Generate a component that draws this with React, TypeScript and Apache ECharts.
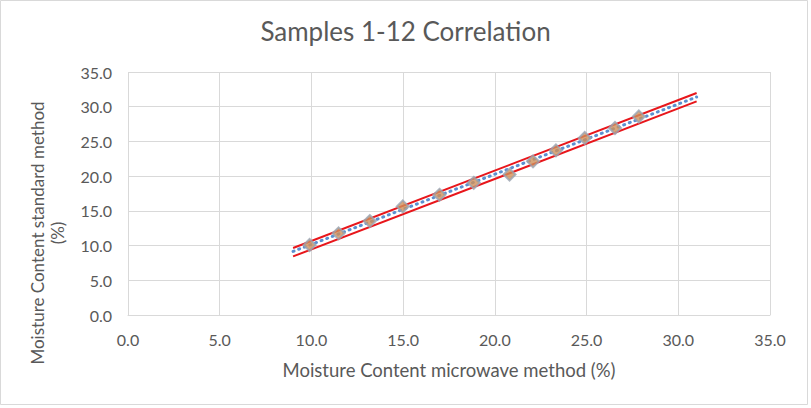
import React, { useEffect, useRef } from "react";
import * as echarts from "echarts";

const sampleX = [9.9, 11.48, 13.18, 14.98, 16.98, 18.85, 20.8, 22.08, 23.33, 24.9, 26.55, 27.85];
const sampleY = [10.08, 11.76, 13.53, 15.64, 17.31, 19.04, 20.23, 22.13, 23.71, 25.49, 26.93, 28.59];
const lineX = [9, 31];
const trendY = [9.16, 31.4];
const upperY = [9.65, 31.97];
const lowerY = [8.44, 30.77];
const xTicks = [0, 5, 10, 15, 20, 25, 30, 35];
const yTicks = [0, 5, 10, 15, 20, 25, 30, 35];

const FONT = "Lato";

export default function App() {
  const ref = useRef<HTMLDivElement>(null);
  useEffect(() => {
    if (!ref.current) return;
    const chart = echarts.init(ref.current, null, { renderer: "svg" });
    const pts = sampleX.map((x, i) => [x, sampleY[i]]);
    const mk = (ys: number[]) => lineX.map((x, i) => [x, ys[i]]);
    chart.setOption({
      animation: false,
      backgroundColor: "#ffffff",
      title: {
        text: "Samples 1-12 Correlation",
        left: "center",
        top: 13,
        textStyle: { fontFamily: FONT, fontSize: 26, fontWeight: "normal", color: "#595959" },
      },
      grid: { left: 128, right: 41, top: 72, bottom: 93 },
      xAxis: {
        type: "value",
        min: 0,
        max: 35,
        interval: 5,
        name: "Moisture Content microwave method (%)",
        nameLocation: "middle",
        nameGap: 45,
        nameTextStyle: { fontFamily: FONT, fontSize: 18.5, color: "#595959" },
        axisLine: { show: true, lineStyle: { color: "#D9D9D9" } },
        axisTick: { show: false },
        splitLine: { show: true, lineStyle: { color: "#D9D9D9" } },
        axisLabel: {
          fontFamily: FONT,
          fontSize: 16,
          color: "#595959",
          margin: 16,
          formatter: (v: number) => (xTicks.includes(v) ? v.toFixed(1) : ""),
        },
      },
      yAxis: {
        type: "value",
        min: 0,
        max: 35,
        interval: 5,
        axisLine: { show: false },
        axisTick: { show: false },
        splitLine: { show: true, lineStyle: { color: "#D9D9D9" } },
        axisLabel: {
          fontFamily: FONT,
          fontSize: 16,
          color: "#595959",
          margin: 16,
          formatter: (v: number) => (yTicks.includes(v) ? v.toFixed(1) : ""),
        },
      },
      series: [
        {
          type: "line",
          data: mk(upperY),
          symbol: "none",
          lineStyle: { color: "#E8161B", width: 2 },
          z: 2,
        },
        {
          type: "line",
          data: mk(lowerY),
          symbol: "none",
          lineStyle: { color: "#E8161B", width: 2 },
          z: 2,
        },
        {
          type: "line",
          data: mk(trendY),
          symbol: "none",
          lineStyle: { color: "#5B8FD0", width: 3, type: [1, 5], cap: "round" },
          z: 3,
        },
        {
          type: "scatter",
          data: pts,
          symbol: "diamond",
          symbolSize: 12,
          itemStyle: { color: "#D0905A", borderColor: "#9AA4B2", borderWidth: 2 },
          z: 4,
        },
      ],
      graphic: [
        {
          type: "rect",
          shape: { x: 0.5, y: 0.5, width: 807, height: 404 },
          style: { fill: "none", stroke: "#D9D9D9", lineWidth: 1 },
          silent: true,
        },
        {
          type: "text",
          x: 47,
          y: 233,
          rotation: Math.PI / 2,
          style: {
            text: "Moisture Content standard method\n(%)",
            fontFamily: FONT,
            fontSize: 17,
            lineHeight: 20,
            fill: "#595959",
            align: "center",
            verticalAlign: "middle",
          },
          silent: true,
        },
      ],
    });
    return () => chart.dispose();
  }, []);
  return (
    <div
      ref={ref}
      style={{ position: "fixed", left: 0, top: 0, width: 811, height: 408 }}
    />
  );
}
